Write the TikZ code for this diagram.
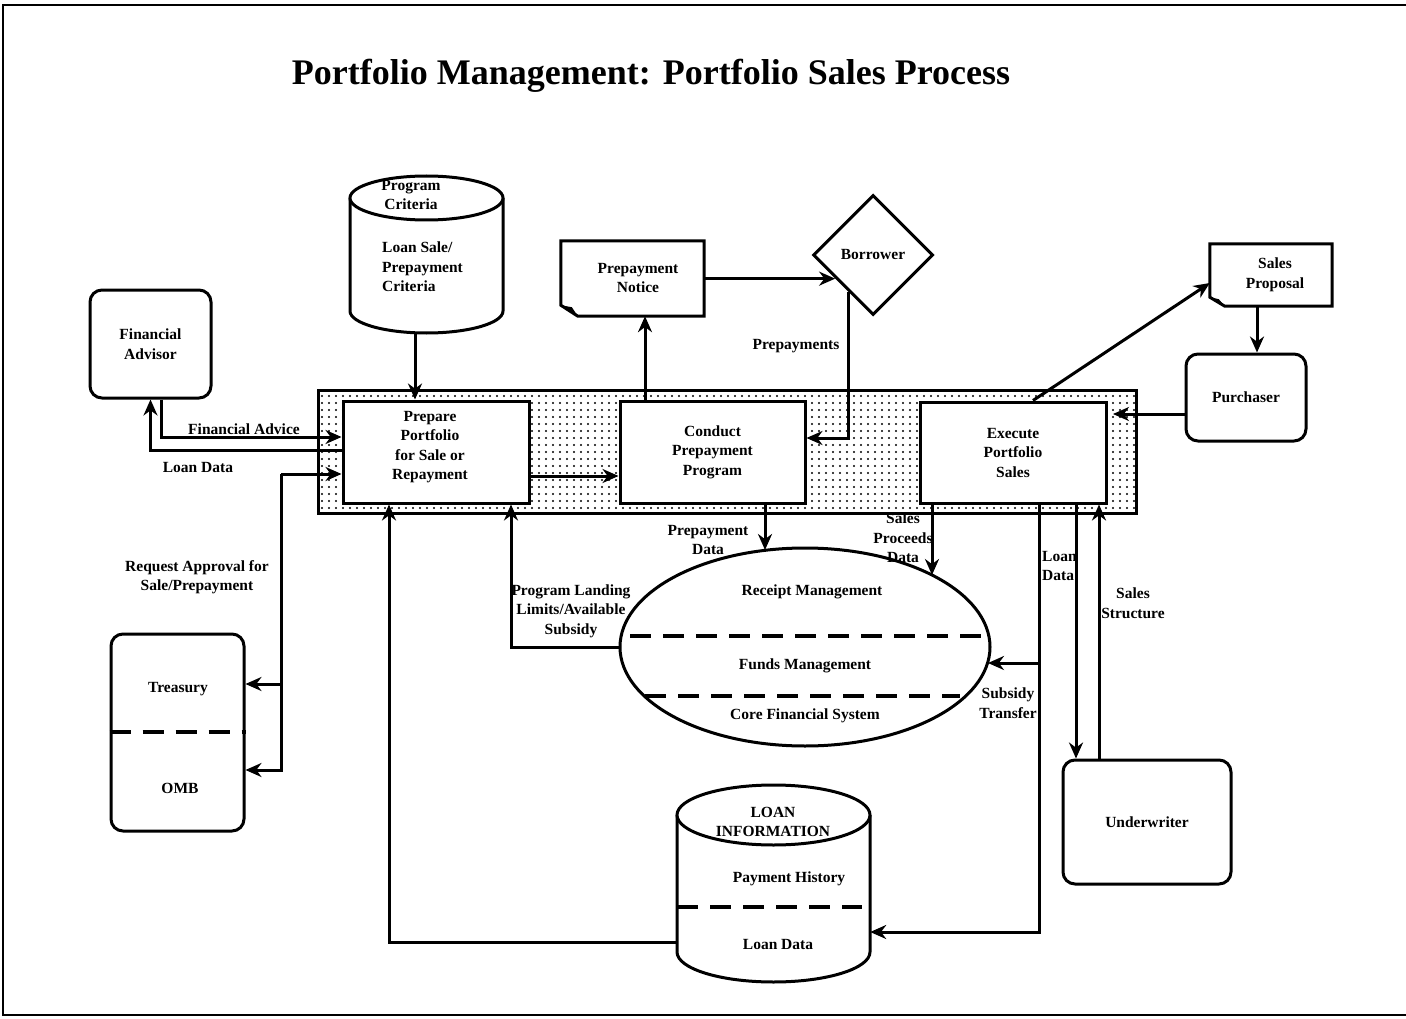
\documentclass[tikz,border=0pt]{standalone}
\usepackage{fontspec}
\setmainfont{Liberation Serif}
\usetikzlibrary{shapes.geometric,arrows.meta,patterns.meta}
\begin{document}
\begin{tikzpicture}[x=1pt,y=-1pt,
  every node/.style={font=\bfseries\fontsize{15.5}{19.5}\selectfont, align=center, inner sep=0pt},
  box/.style={draw, line width=3pt, fill=white},
  rbox/.style={box, rounded corners=12pt},
  ln/.style={line width=3pt},
  conn/.style={line width=3pt, -{Stealth[length=16pt,width=14pt]}},
  dashsep/.style={line width=4.5pt, dash pattern=on 21pt off 12pt},
  lbl/.style={fill=none}
]
\useasboundingbox (0,0) rectangle (1406,1019);
\fill[white] (0,0) rectangle (1406,1019);
\draw[line width=1.6pt] (1406,5) -- (3,5) -- (3,1015) -- (1406,1015);

% title
\node[font=\bfseries\fontsize{36}{40}\selectfont] (title) at (651,76) {Portfolio Management: Portfolio Sales Process};

% band
\node[draw, line width=3pt, pattern={Dots[distance=7pt,radius=1.2pt]}, minimum width=818pt, minimum height=123pt] (band) at (727,451.5) {};

% process boxes
\node[box, minimum width=186pt, minimum height=102pt] (prep) at (436,452) {};
\node (prept) at (430,447) {Prepare\\Portfolio\\for Sale or\\Repayment};
\node[box, minimum width=185pt, minimum height=102pt] (cpp) at (712.5,452) {Conduct\\Prepayment\\Program};
\node[box, minimum width=186pt, minimum height=101pt] (exe) at (1013,452.5) {Execute\\Portfolio\\Sales};

% external entities
\node[rbox, minimum width=121pt, minimum height=108pt] (fa) at (150.5,344) {Financial\\Advisor};
\node[rbox, minimum width=120pt, minimum height=87pt] (pur) at (1246,397.5) {Purchaser};
\node[rbox, minimum width=133pt, minimum height=197pt] (tr) at (177.5,732.5) {};
\draw[dashsep] (tr.west |- 0,732) -- (tr.east |- 0,732);
\node (trt) at (178,689) {Treasury};
\node (omb) at (180,788) {OMB};
\node[rbox, minimum width=168pt, minimum height=124pt] (uw) at (1147,822) {Underwriter};

% borrower
\node[draw, line width=3pt, fill=white, shape=diamond, aspect=1, minimum width=120pt, minimum height=120pt] (bor) at (873,255) {Borrower};

% documents
\node[minimum width=143pt, minimum height=75pt] (pn) at (632.5,278.5) {};
\draw[box] (pn.north west) -- (pn.north east) -- (pn.south east) -- ([xshift=17pt]pn.south west) -- ([yshift=11pt]pn.south west) -- cycle;
\fill ([yshift=11pt]pn.south west) -- ([xshift=17pt]pn.south west) -- ([xshift=11pt,yshift=9pt]pn.south west) -- cycle;
\node (pnt) at (638,278) {Prepayment\\Notice};

\node[minimum width=122pt, minimum height=62pt] (sp) at (1271,275) {};
\draw[box] (sp.north west) -- (sp.north east) -- (sp.south east) -- ([xshift=15pt]sp.south west) -- ([yshift=9pt]sp.south west) -- cycle;
\fill ([yshift=9pt]sp.south west) -- ([xshift=15pt]sp.south west) -- ([xshift=9pt,yshift=7pt]sp.south west) -- cycle;
\node (spt) at (1275,275) {Sales\\Proposal};

% program criteria cylinder
\node[minimum width=153pt, minimum height=160pt] (pc) at (426.5,253) {};
\fill[white] (350,198) -- (350,311) arc[start angle=180,end angle=360,x radius=76.5pt,y radius=22pt] -- (503,198) -- cycle;
\draw[ln] (350,198) -- (350,311) arc[start angle=180,end angle=360,x radius=76.5pt,y radius=22pt] -- (503,198);
\draw[box] (426.5,198) ellipse[x radius=76.5pt,y radius=22pt];
\node (pct) at (411,195) {Program\\Criteria};
\node[anchor=west, align=left] (pcl) at (382,267) {Loan Sale/\\Prepayment\\Criteria};

% loan information cylinder
\node[minimum width=193pt, minimum height=197pt] (li) at (773.5,883.5) {};
\fill[white] (677,815) -- (677,952) arc[start angle=180,end angle=360,x radius=96.5pt,y radius=30pt] -- (870,815) -- cycle;
\draw[ln] (677,815) -- (677,952) arc[start angle=180,end angle=360,x radius=96.5pt,y radius=30pt] -- (870,815);
\draw[box] (773.5,815) ellipse[x radius=96.5pt,y radius=30pt];
\draw[dashsep] (677,907) -- (862,907);
\node (lit) at (773,822) {LOAN\\INFORMATION};
\node (lip) at (789,879) {Payment History};
\node (lid) at (778,944) {Loan Data};

% receipt management ellipse
\node[draw, line width=3pt, fill=white, shape=ellipse, minimum width=370pt, minimum height=198pt] (rm) at (805,647) {};
\draw[dashsep] (630,636) -- (985,636);
\draw[dashsep] (645,696) -- (960,696);
\node (rmt) at (812,592) {Receipt Management};
\node (fmt) at (805,666) {Funds Management};
\node (cfs) at (805,716) {Core Financial System};

% connectors
\draw[conn] ([xshift=10.5pt]fa.south) |- (prep.west |- 0,437);
\draw[conn] (prep.west |- 0,450) -| (fa.south);
\coordinate (ra) at (281,474);
\draw[conn] (ra) -- (prep.west |- ra);
\draw[conn] (ra) |- (tr.east |- 0,684);
\draw[conn] (ra) |- (tr.east |- 0,770);
\draw[conn] ([xshift=-11.5pt]pc.south) -- (prep.north -| 415,0);
\draw[conn] (prep.east |- 0,476) -- (cpp.west |- 0,476);
\draw[conn] (cpp.north -| 645,0) -- (pn.south -| 645,0);
\draw[conn] (pn.east |- bor.212) -- (bor.212);
\draw[conn] (bor.236) |- (cpp.east |- 0,438);
\draw[conn] (exe.north -| 1033,0) -- (sp.west |- 0,283);
\draw[conn] (sp.south -| 1257,0) -- (pur.north -| 1257,0);
\draw[conn] (pur.west |- 0,414) -- (1113,414);
\draw[conn] (cpp.south -| 765,0) -- (765,550);
\draw[conn] (exe.south -| 932,0) -- (932,575);
\draw[conn] (exe.south -| 1039,0) |- (li.east |- 0,932);
\draw[conn] (1039,663) -- (988,663);
\draw[conn] (exe.south -| 1076,0) -- (uw.north -| 1076,0);
\draw[conn] (uw.north -| 1099,0) -- (exe.south -| 1099,0);
\draw[conn] (rm.west) -| (prep.south -| 511,0);
\draw[conn] (li.west |- 0,942) -| (prep.south -| 389,0);

% labels
\node[lbl] (l1) at (244,429) {Financial Advice};
\node[lbl] (l2) at (198,467) {Loan Data};
\node[lbl] (l3) at (197,577) {Request Approval for\\Sale/Prepayment};
\node[lbl] (l4) at (796,346) {Prepayments};
\node[lbl] (l5) at (708,540) {Prepayment\\Data};
\node[lbl] (l6) at (903,538) {Sales\\Proceeds\\Data};
\node[lbl, anchor=west, align=left] (l7) at (1042,566) {Loan\\Data};
\node[lbl] (l8) at (1133,603) {Sales\\Structure};
\node[lbl] (l9) at (1008,703) {Subsidy\\Transfer};
\node[lbl] (l10) at (571,611) {Program Landing\\Limits/Available\\Subsidy};
\end{tikzpicture}
\end{document}
